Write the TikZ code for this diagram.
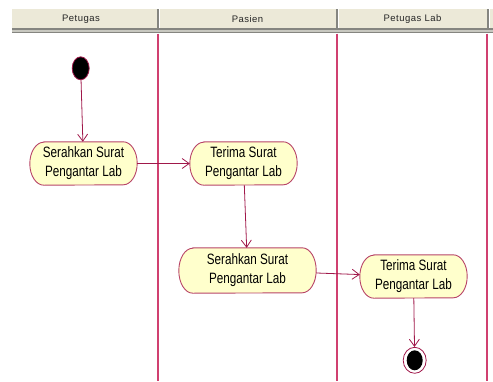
\documentclass[tikz,border=0pt]{standalone}
\usepackage{fontspec}
\setmainfont{Liberation Sans}
\newfontfamily\actfont[FakeStretch=0.78]{Liberation Sans}
\newfontfamily\hdrfont[LetterSpace=5]{Liberation Sans}
\usetikzlibrary{arrows.meta,shapes.geometric,backgrounds}

\definecolor{hdrbg}{HTML}{ECE9D8}
\definecolor{hdrline}{HTML}{858580}
\definecolor{hdrmid}{HTML}{C8C8C0}
\definecolor{laneclr}{HTML}{D04070}
\definecolor{flowclr}{HTML}{A0184A}
\definecolor{actedge}{HTML}{B84468}
\definecolor{actfill}{HTML}{FFFFCC}

\tikzset{
  hdrtext/.style={font=\hdrfont\fontsize{9.5}{11}\selectfont, text=black!85, anchor=center},
  lane/.style={draw=laneclr, line width=1.1pt},
  hdrdiv/.style={draw=hdrline, line width=1.4pt},
  actbox/.style={draw=none, inner sep=0pt, minimum height=43pt, align=center,
                 font=\actfont\fontsize{15}{19}\selectfont},
  actline/.style={draw=actedge, fill=actfill, line width=0.9pt},
  flow/.style={draw=flowclr, line width=0.8pt,
               -{Straight Barb[length=7pt,width=10pt,line width=0.8pt]}},
  startdot/.style={ellipse, inner sep=0pt, minimum width=17pt, minimum height=23pt,
                   fill=black, draw=flowclr, line width=0.8pt},
  endring/.style={ellipse, inner sep=0pt, minimum width=23pt, minimum height=26pt,
                  fill=white, draw=flowclr, line width=0.8pt},
  enddot/.style={ellipse, inner sep=0pt, minimum width=16pt, minimum height=20pt,
                 fill=black}
}

% activity outline: straight top/bottom with elliptic ends
\newcommand\actoutline[2]{%
  \draw[actline] ([xshift=14pt]#1.north west) -- ([xshift=-14pt]#1.north east)
    arc[start angle=90,end angle=-90,x radius=14pt,y radius=#2]
    -- ([xshift=14pt]#1.south west)
    arc[start angle=270,end angle=90,x radius=14pt,y radius=#2] -- cycle;}

\begin{document}
\begin{tikzpicture}[x=1pt,y=-1pt]
  \useasboundingbox (0,0) rectangle (493,381);

  % swimlane header
  \fill[hdrbg] (12,9) rectangle (493,28);
  \fill[hdrmid] (12,28) rectangle (493,33);
  \draw[hdrline, line width=1.3pt] (12,29) -- (493,29);
  \draw[hdrline, line width=1.3pt] (12,32.3) -- (493,32.3);
  \foreach \xx in {158,337,488} {
    \draw[hdrdiv] (\xx,9) -- (\xx,28);
    \draw[white, line width=0.8pt] (\xx+1.3,9) -- (\xx+1.3,28);
  }
  \node[hdrtext] (h1) at (81,19) {Petugas};
  \node[hdrtext] (h2) at (247.5,19) {Pasien};
  \node[hdrtext] (h3) at (412.5,19) {Petugas Lab};

  % lane separators
  \draw[lane] (158,33.5) -- (158,381);
  \draw[lane] (337,33.5) -- (337,381);
  \draw[lane] (487,33.5) -- (487,381);

  % start and end nodes
  \node[startdot] (init) at (80.7,68.3) {};
  \node[endring] (fin) at (414.7,360.3) {};
  \node[enddot] (finc) at (fin.center) {};

  % activities
  \node[actbox, minimum width=107pt] (a1) at (83.5,163.5) {Serahkan Surat\\Pengantar Lab};
  \node[actbox, minimum width=107pt] (a2) at (243.5,163.5) {Terima Surat\\Pengantar Lab};
  \node[actbox, minimum width=137pt, minimum height=45pt] (a3) at (247.5,270.5) {Serahkan Surat\\Pengantar Lab};
  \node[actbox, minimum width=107pt] (a4) at (413.5,276.5) {Terima Surat\\Pengantar Lab};

  \begin{scope}[on background layer]
    \actoutline{a1}{21.5pt}
    \actoutline{a2}{21.5pt}
    \actoutline{a3}{22.5pt}
    \actoutline{a4}{21.5pt}
  \end{scope}

  % control flow
  \draw[flow] (init) -- (a1);
  \draw[flow] (a1) -- (a2);
  \draw[flow] (a2) -- (a3);
  \draw[flow] (a3) -- (a4);
  \draw[flow] (a4) -- (fin);
\end{tikzpicture}
\end{document}
